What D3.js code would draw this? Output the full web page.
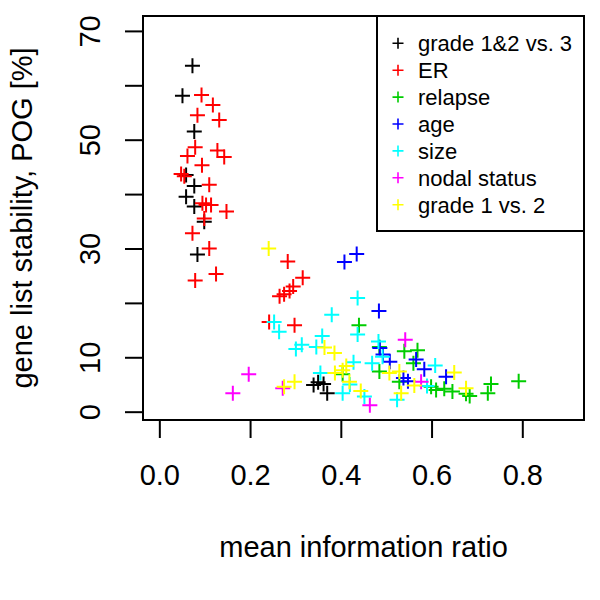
<!DOCTYPE html>
<html>
<head>
<meta charset="utf-8">
<script src="https://cdn.jsdelivr.net/npm/d3@7"></script>
<style>
  html, body { margin: 0; padding: 0; background: #fff; }
  svg { display: block; font-family: "Liberation Sans", Arial, Helvetica, sans-serif; }
</style>
</head>
<body>
<svg id="chart" width="600" height="600"></svg>
<script>
// ---- data ----
const seriesNames = ["grade 1&2 vs. 3", "ER", "relapse", "age", "size", "nodal status", "grade 1 vs. 2"];
const seriesColors = ["#000000", "#FF0000", "#00CD00", "#0000FF", "#00FFFF", "#FF00FF", "#FFFF00"];

const grade12vs3 = [
  [0.073, 63.6], [0.051, 58.1], [0.077, 51.5], [0.059, 43.5], [0.077, 41.5],
  [0.059, 39.5], [0.077, 37.7], [0.099, 34.9], [0.084, 28.9],
  [0.340, 4.9], [0.350, 5.4], [0.362, 5.1], [0.370, 3.4]
];
const er = [
  [0.093, 58.2], [0.118, 56.4], [0.084, 54.5], [0.132, 53.6], [0.079, 48.6],
  [0.062, 47.0], [0.128, 48.0], [0.143, 46.8], [0.094, 45.3], [0.048, 43.7],
  [0.055, 43.3], [0.110, 41.7], [0.095, 38.3], [0.103, 38.0], [0.114, 38.0],
  [0.148, 36.8], [0.099, 35.5], [0.073, 32.8], [0.110, 30.0], [0.079, 24.1],
  [0.125, 25.3], [0.265, 21.2], [0.275, 21.6], [0.287, 22.2], [0.295, 23.0],
  [0.283, 27.6], [0.316, 24.6], [0.242, 16.5], [0.298, 15.9]
];
const relapse = [
  [0.440, 15.9], [0.404, 6.9], [0.485, 11.9], [0.485, 7.4], [0.540, 11.1],
  [0.569, 11.3], [0.560, 8.9], [0.529, 5.5], [0.599, 4.6], [0.610, 4.0],
  [0.628, 4.2], [0.646, 3.7], [0.676, 3.3], [0.684, 2.9], [0.724, 3.4],
  [0.731, 5.1], [0.792, 5.6]
];
const age = [
  [0.408, 27.5], [0.435, 29.0], [0.484, 18.5], [0.486, 11.7], [0.493, 10.5],
  [0.508, 9.2], [0.566, 9.6], [0.584, 7.8], [0.538, 6.2], [0.548, 5.6],
  [0.632, 6.4]
];
const size = [
  [0.253, 16.5], [0.264, 14.7], [0.301, 11.5], [0.314, 12.3], [0.346, 11.9],
  [0.359, 13.9], [0.380, 17.8], [0.437, 20.9], [0.437, 14.2], [0.483, 12.9],
  [0.492, 10.1], [0.469, 8.9], [0.428, 9.1], [0.355, 7.1], [0.404, 3.4],
  [0.420, 5.0], [0.452, 2.8], [0.524, 2.2], [0.590, 4.7], [0.608, 8.5]
];
const nodal = [
  [0.162, 3.4], [0.197, 6.9], [0.272, 4.3], [0.464, 1.2], [0.542, 13.2], [0.577, 5.5]
];
const grade1vs2 = [
  [0.241, 30.0], [0.275, 4.6], [0.298, 5.5], [0.364, 11.8], [0.386, 10.8],
  [0.387, 7.1], [0.404, 7.6], [0.412, 8.4], [0.419, 5.5], [0.444, 3.8],
  [0.507, 7.1], [0.529, 7.4], [0.533, 3.4], [0.562, 4.8], [0.650, 7.2],
  [0.676, 4.3]
];
const seriesData = [grade12vs3, er, relapse, age, size, nodal, grade1vs2];

const xTicks = [0, 0.2, 0.4, 0.6, 0.8];
const yTicks = [0, 10, 20, 30, 40, 50, 60, 70];
const yTickLabels = [0, 10, 30, 50, 70];

// ---- layout ----
const svg = d3.select("#chart");
const L = 143, R = 584, T = 16, B = 420;

const x = d3.scaleLinear().domain([-0.036, 0.936]).range([L, R]);
const y = d3.scaleLinear().domain([-1.53, 72.74]).range([B, T]);

// axes
const xAxis = svg.append("g").attr("transform", `translate(0,${B})`)
  .call(d3.axisBottom(x).tickValues(xTicks).tickSizeInner(18).tickSizeOuter(0).tickFormat(d3.format(".1f")));
xAxis.select(".domain").remove();
xAxis.selectAll(".tick line").attr("stroke-width", 2);
xAxis.selectAll(".tick text").attr("y", 65).attr("dy", 0)
  .attr("font-size", 29).attr("font-family", "Liberation Sans, Arial, sans-serif").attr("fill", "#000");

const yAxis = svg.append("g").attr("transform", `translate(${L},0)`)
  .call(d3.axisLeft(y).tickValues(yTicks).tickSizeInner(18).tickSizeOuter(0)
    .tickFormat(d => yTickLabels.includes(d) ? String(d) : ""));
yAxis.select(".domain").remove();
yAxis.selectAll(".tick line").attr("stroke-width", 2);
yAxis.selectAll(".tick text")
  .attr("x", 0).attr("dy", 0)
  .attr("transform", "translate(-43,0) rotate(-90)")
  .attr("text-anchor", "middle")
  .attr("font-size", 29).attr("font-family", "Liberation Sans, Arial, sans-serif").attr("fill", "#000");

// box
svg.append("rect").attr("x", L).attr("y", T).attr("width", R - L).attr("height", B - T)
  .attr("fill", "none").attr("stroke", "#000").attr("stroke-width", 2);

// axis titles
svg.append("text").attr("x", (L + R) / 2).attr("y", 557).attr("text-anchor", "middle")
  .attr("font-size", 29).text("mean information ratio");
svg.append("text").attr("transform", `translate(32,${(T + B) / 2}) rotate(-90)`)
  .attr("text-anchor", "middle").attr("font-size", 29).text("gene list stability, POG [%]");

// points (pch = 3)
const h = 7.5;
seriesData.forEach((data, i) => {
  const g = svg.append("g").attr("stroke", seriesColors[i]).attr("stroke-width", 2);
  g.selectAll("path").data(data).join("path")
    .attr("d", d => {
      const px = x(d[0]), py = y(d[1]);
      return `M${px - h},${py}H${px + h}M${px},${py - h}V${py + h}`;
    });
});

// legend
const lg = svg.append("g");
lg.append("rect").attr("x", 377).attr("y", T).attr("width", R - 377).attr("height", 215)
  .attr("fill", "#fff").attr("stroke", "#000").attr("stroke-width", 2);
seriesNames.forEach((name, i) => {
  const cy = 43.3 + i * 26.9;
  lg.append("path").attr("d", `M392.5,${cy}H403.5M398,${cy - 5.5}V${cy + 5.5}`)
    .attr("stroke", seriesColors[i]).attr("stroke-width", 1.6);
  lg.append("text").attr("x", 418).attr("y", cy + 8).attr("font-size", 22).text(name);
});
</script>
</body>
</html>
